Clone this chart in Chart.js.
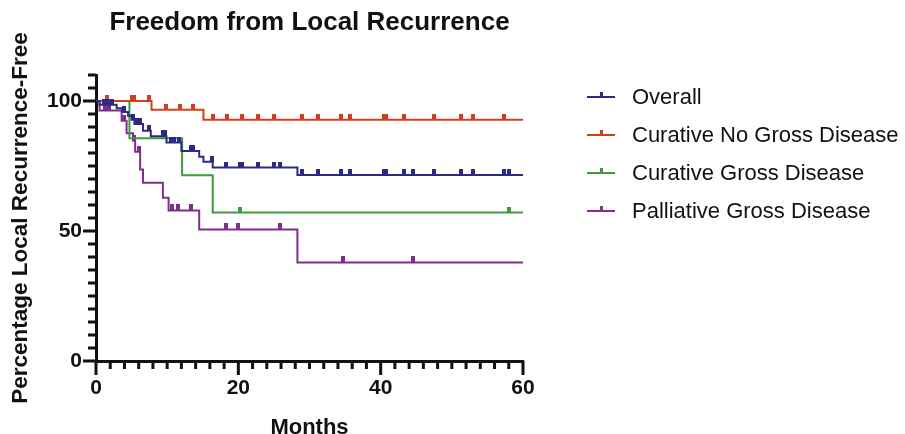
<!DOCTYPE html>
<html>
<head>
<meta charset="utf-8">
<script src="https://cdn.jsdelivr.net/npm/chart.js@4.4.1/dist/chart.umd.min.js"></script>
<style>
  html, body { margin: 0; padding: 0; background: #fff; }
</style>
</head>
<body>
<canvas id="chart" width="905" height="434"></canvas>
<script>
// ── Kaplan-Meier steps (months, % free) and censored times ─────
const overallTimes  = [0, 0.5, 2.9, 3.7, 4.5, 5.0, 5.4, 6.6, 7.7, 9.9, 12.0, 14.5, 15.1, 16.4, 28.3, 60];
const overallSurv   = [100, 98.6, 97.2, 95.8, 94.3, 92.8, 91.2, 88.6, 86.4, 84.0, 80.8, 78.6, 76.6, 74.4, 71.5, 71.5];
const overallCensor = [1.1, 1.4, 1.8, 2.2, 4.0, 5.2, 5.6, 5.9, 6.2, 7.5, 9.4, 9.7, 10.5, 11.0, 11.7, 13.4, 13.7, 16.3, 18.3, 20.2, 20.5, 22.7, 25.0, 25.8, 29.0, 31.2, 34.4, 35.7, 40.5, 40.8, 43.3, 44.5, 47.5, 51.3, 53.0, 57.3, 58.0];

const noGrossTimes  = [0, 7.8, 15.1, 60];
const noGrossSurv   = [100, 96.6, 92.8, 92.8];
const noGrossCensor = [1.5, 5.0, 5.4, 7.5, 9.8, 11.8, 13.7, 16.5, 18.4, 20.5, 22.7, 25.0, 29.0, 31.2, 34.4, 35.7, 40.5, 40.8, 43.3, 47.5, 51.3, 53.0, 57.3];

const grossTimes  = [0, 4.7, 12.1, 16.4, 60];
const grossSurv   = [100, 85.7, 71.4, 57.1, 57.1];
const grossCensor = [20.3, 58.0];

const palliativeTimes  = [0, 0.5, 3.6, 4.3, 5.2, 5.5, 6.2, 6.6, 9.4, 10.2, 14.5, 28.3, 60];
const palliativeSurv   = [100, 96.3, 92.4, 87.6, 84.7, 80.5, 73.7, 68.6, 62.8, 57.9, 50.6, 37.9, 37.9];
const palliativeCensor = [1.2, 1.8, 4.0, 5.3, 6.0, 10.7, 11.5, 13.4, 18.3, 20.0, 25.8, 34.7, 44.5];

const groupNames  = ['Overall', 'Curative No Gross Disease', 'Curative Gross Disease', 'Palliative Gross Disease'];
const groupColors = ['#2d2a84', '#d1401d', '#3e9a3b', '#7e2f8c'];

const FONT = '"Liberation Sans", Arial, Helvetica, sans-serif';
const INK  = '#111';

// level of the step curve at time t
function levelAt(times, surv, t) {
  let v = surv[0];
  for (let i = 0; i < times.length; i++) if (times[i] <= t) v = surv[i];
  return v;
}

// small tick above the curve, the censor mark
function censorMark(color) {
  const c = document.createElement('canvas');
  c.width = 4; c.height = 12;
  const g = c.getContext('2d');
  g.fillStyle = color;
  g.fillRect(0, 0, 4, 6);
  return c;
}

const groups = [
  [overallTimes, overallSurv, overallCensor],
  [noGrossTimes, noGrossSurv, noGrossCensor],
  [grossTimes, grossSurv, grossCensor],
  [palliativeTimes, palliativeSurv, palliativeCensor],
];

const datasets = [];
groups.forEach(([times, surv, censor], i) => {
  datasets.push({
    label: groupNames[i],
    data: times.map((t, k) => ({ x: t, y: surv[k] })),
    borderColor: groupColors[i], borderWidth: 2,
    stepped: true, pointRadius: 0, fill: false,
  });
  datasets.push({
    label: groupNames[i] + ' censored',
    data: censor.map(t => ({ x: t, y: levelAt(times, surv, t) })),
    showLine: false, pointStyle: censorMark(groupColors[i]), pointRadius: 3,
  });
});

// ── axis tick marks, Prism style (long majors, short minors) ──
const tickMarks = {
  id: 'tickMarks',
  afterDraw(chart) {
    const { ctx, scales: { x, y } } = chart;
    ctx.save();
    ctx.fillStyle = INK;
    y.ticks.forEach(t => {
      const py = y.getPixelForValue(t.value);
      const len = t.value % 50 === 0 ? 13 : 8;
      ctx.fillRect(x.left - len, py - 1.5, len, 3);
    });
    x.ticks.forEach(t => {
      const px = x.getPixelForValue(t.value);
      const len = t.value % 20 === 0 ? 14 : 8;
      ctx.fillRect(px - 1.5, y.bottom, 3, len);
    });
    ctx.restore();
  }
};

// ── title over the plot and legend on the right ──────────────
const titleAndLegend = {
  id: 'titleAndLegend',
  afterDraw(chart) {
    const { ctx, chartArea } = chart;
    ctx.save();
    ctx.fillStyle = INK;
    ctx.font = `bold 26px ${FONT}`;
    ctx.textAlign = 'center';
    ctx.textBaseline = 'middle';
    ctx.fillText('Freedom from Local Recurrence', (chartArea.left + chartArea.right) / 2, 23);

    ctx.font = `22px ${FONT}`;
    ctx.textAlign = 'left';
    groupNames.forEach((name, i) => {
      const yy = 97 + i * 38;
      ctx.fillStyle = groupColors[i];
      ctx.fillRect(587, yy - 1, 28, 2);
      ctx.fillRect(600, yy - 5, 3, 5);
      ctx.fillStyle = INK;
      ctx.fillText(name, 632, yy + 1);
    });
    ctx.restore();
  }
};

new Chart(document.getElementById('chart').getContext('2d'), {
  type: 'line',
  data: { datasets },
  plugins: [tickMarks, titleAndLegend],
  options: {
    responsive: false, animation: false, devicePixelRatio: 1,
    layout: { padding: { left: 0, right: 382, top: 75, bottom: 0 } },
    plugins: { legend: { display: false }, tooltip: { enabled: false } },
    scales: {
      x: {
        type: 'linear', min: 0, max: 60,
        grid: { display: false, drawTicks: false },
        border: { display: true, color: INK, width: 3 },
        ticks: {
          stepSize: 2, autoSkip: false, maxRotation: 0, padding: 15, color: INK,
          font: { family: FONT, size: 21, weight: 'bold' },
          callback: v => (v % 20 === 0 ? v : ''),
        },
        title: { display: true, text: 'Months', color: INK, padding: { bottom: -5 },
                 font: { family: FONT, size: 22, weight: 'bold', lineHeight: 1 } },
        afterFit: s => { s.height = 73; },
      },
      y: {
        type: 'linear', min: 0, max: 110,
        grid: { display: false, drawTicks: false },
        border: { display: true, color: INK, width: 3 },
        ticks: {
          stepSize: 5, autoSkip: false, padding: 14, color: INK,
          font: { family: FONT, size: 21, weight: 'bold' },
          callback: v => (v % 50 === 0 ? v : ''),
        },
        title: { display: true, text: 'Percentage Local Recurrence-Free', color: INK, padding: { top: 7 },
                 font: { family: FONT, size: 22.5, weight: 'bold', lineHeight: 1.2 } },
        afterFit: s => { s.width = 96; },
      },
    },
  },
});
</script>
</body>
</html>
